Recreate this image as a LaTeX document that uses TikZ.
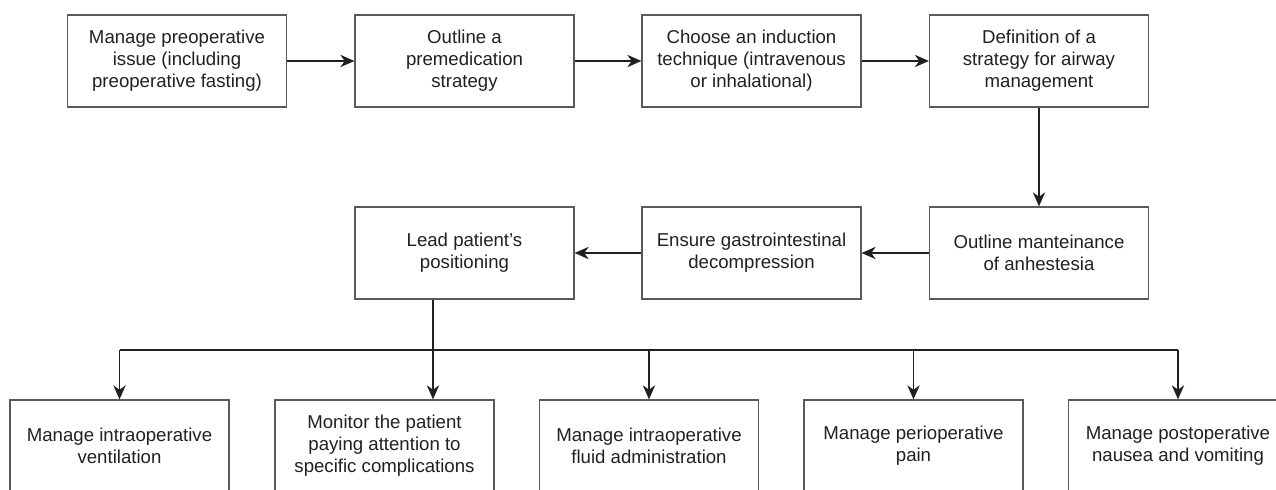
\documentclass[tikz,border=0pt]{standalone}
\usepackage{fontspec}
\setmainfont{Liberation Sans}
\usetikzlibrary{arrows.meta}
\definecolor{boxline}{HTML}{5A5A5A}
\definecolor{inkdark}{HTML}{231F20}
\tikzset{
	stepbox/.style={draw=boxline,line width=0.7pt,minimum width=4.38cm,minimum height=1.84cm,inner sep=0pt,align=center,text=inkdark,font=\fontsize{10.6}{12.5}\selectfont},
	link/.style={draw=inkdark,line width=0.75pt}
}
\begin{document}
\begin{tikzpicture}[>={Stealth[length=8pt,width=7pt,inset=2.5pt]},x=0.02cm,y=-0.02cm]
			\useasboundingbox (0,0) rectangle (1276,490);
			\clip (0,0) rectangle (1276,490);
			% first row
			\node[stepbox] (preop) at (177,61) {Manage preoperative\\issue (including\\preoperative fasting)};
			\node[stepbox] (premed) at (464.5,61) {Outline a\\premedication\\strategy};
			\node[stepbox] (induct) at (751.5,61) {Choose an induction\\technique (intravenous\\or inhalational)};
			\node[stepbox] (airway) at (1039,61) {Definition of a\\strategy for airway\\management};
			% second row
			\node[stepbox] (maint) at (1039,253) {Outline manteinance\\of anhestesia};
			\node[stepbox] (gastro) at (751.5,253) {Ensure gastrointestinal\\decompression};
			\node[stepbox] (posit) at (464.5,253) {Lead patient's\\positioning};
			% third row
			\node[stepbox] (vent) at (119.5,446) {Manage intraoperative\\ventilation};
			\node[stepbox] (monit) at (384.5,446) {Monitor the patient\\paying attention to\\specific complications};
			\node[stepbox] (fluid) at (649,446) {Manage intraoperative\\fluid administration};
			\node[stepbox] (pain) at (913.5,446) {Manage perioperative\\pain};
			\node[stepbox] (nausea) at (1178,446) {Manage postoperative\\nausea and vomiting};
			\coordinate (split) at (433,350);
			\draw[link,->] (preop) -- (premed);
			\draw[link,->] (premed) -- (induct);
			\draw[link,->] (induct) -- (airway);
			\draw[link,->] (airway) -- (maint);
			\draw[link,->] (maint) -- (gastro);
			\draw[link,->] (gastro) -- (posit);
			\draw[link] (split -| vent) -- (split -| nausea);
			\draw[link,->] (posit.south -| split) -- (split |- monit.north);
			\draw[link,->] (split -| vent) -- (vent.north);
			\draw[link,->] (split -| fluid) -- (fluid.north);
			\draw[link,->] (split -| pain) -- (pain.north);
			\draw[link,->] (split -| nausea) -- (nausea.north);
		\end{tikzpicture}
\end{document}
